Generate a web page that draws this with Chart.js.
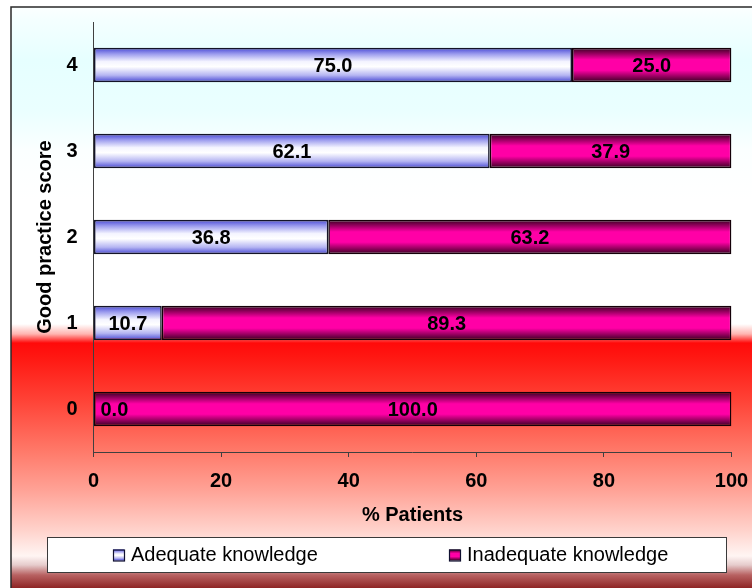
<!DOCTYPE html>
<html>
<head>
<meta charset="utf-8">
<title>Good practice score by knowledge level</title>
<script src="https://cdn.jsdelivr.net/npm/chart.js@4.4.0/dist/chart.umd.min.js"></script>
<style>
  html, body { margin: 0; padding: 0; background: #ffffff; }
  #wrap { width: 752px; height: 588px; position: relative; }
</style>
</head>
<body>
<div id="wrap"><canvas id="chart" width="752" height="588"></canvas></div>
<script>
// Good practice score categories (top to bottom)
const scores = ['4', '3', '2', '1', '0'];
// Percentage of patients per score
const adequateKnowledge = [75.0, 62.1, 36.8, 10.7, 0.0];
const inadequateKnowledge = [25.0, 37.9, 63.2, 89.3, 100.0];
// Percent axis ticks
const percentTicks = [0, 20, 40, 60, 80, 100];
const seriesNames = ['Adequate knowledge', 'Inadequate knowledge'];

const FONT = '"Liberation Sans", Arial, Helvetica, sans-serif';
const BAR_FRACTION = 0.4;

// Cylinder-like shading across the bar thickness
const blueStops = [
  [0.00, '#4646d4'], [0.18, '#9c9cee'], [0.40, '#f4f4ff'],
  [0.55, '#ffffff'], [0.80, '#b4b4f2'], [1.00, '#4444d2']
];
const magentaStops = [
  [0.00, '#33001f'], [0.15, '#8c0058'], [0.35, '#ff00a6'],
  [0.65, '#ff00a6'], [0.85, '#8c0058'], [1.00, '#33001f']
];

function shaded(stops) {
  return (ctx) => {
    const chart = ctx.chart;
    const y = chart.scales && chart.scales.y;
    if (!y || ctx.dataIndex === undefined || !chart.chartArea) {
      return stops[3][1];
    }
    const yc = y.getPixelForValue(ctx.dataIndex);
    const band = Math.abs(y.getPixelForValue(1) - y.getPixelForValue(0));
    const h = band * BAR_FRACTION;
    const g = chart.ctx.createLinearGradient(0, yc - h / 2, 0, yc + h / 2);
    stops.forEach(([o, c]) => g.addColorStop(o, c));
    return g;
  };
}

// Page backdrop: cyan haze at the top, red band low down, dark rim at the bottom
const backdrop = {
  id: 'backdrop',
  beforeDraw(chart) {
    const { ctx, width, height } = chart;
    ctx.save();
    ctx.fillStyle = '#ffffff';
    ctx.fillRect(0, 0, width, height);
    const bg = [
      [0, '#ffffff'], [20, '#f4ffff'], [60, '#e6ffff'], [110, '#eaffff'],
      [150, '#fbffff'], [200, '#ffffff'], [324, '#ffffff'], [334, '#ffb4b0'],
      [343, '#ff0a0a'], [360, '#ff1a14'], [400, '#ff4236'], [450, '#ff7868'],
      [490, '#ffa296'], [530, '#ffd2cb'], [556, '#fff5f3'], [565, '#e6cccc'],
      [575, '#b86262'], [588, '#8e2424']
    ];
    const g = ctx.createLinearGradient(0, 0, 0, height);
    bg.forEach(([y, c]) => g.addColorStop(y / height, c));
    ctx.fillStyle = g;
    ctx.fillRect(11, 7, width - 11, height - 7);
    ctx.strokeStyle = '#2a2a2a';
    ctx.lineWidth = 1.5;
    ctx.beginPath();
    ctx.moveTo(11, height);
    ctx.lineTo(11, 7);
    ctx.lineTo(width, 7);
    ctx.stroke();
    ctx.restore();
  }
};

// Value printed in the middle of every bar segment
const segmentValues = {
  id: 'segmentValues',
  afterDatasetsDraw(chart) {
    const { ctx } = chart;
    ctx.save();
    ctx.font = 'bold 20px ' + FONT;
    ctx.fillStyle = '#000000';
    ctx.textAlign = 'center';
    ctx.textBaseline = 'middle';
    chart.data.datasets.forEach((ds, di) => {
      const meta = chart.getDatasetMeta(di);
      meta.data.forEach((bar, i) => {
        const v = ds.data[i];
        const { x, y, base } = bar.getProps(['x', 'y', 'base'], true);
        const text = v.toFixed(1);
        const w = ctx.measureText(text).width;
        let cx = (x + base) / 2;
        if (Math.abs(x - base) < w + 4) cx = Math.min(x, base) + 7 + w / 2;
        ctx.fillText(text, cx, y + 1);
      });
    });
    ctx.restore();
  }
};

// Boxed legend under the axis title
const legendBox = {
  id: 'legendBox',
  afterDraw(chart) {
    const { ctx } = chart;
    const box = { left: 47, top: 537, width: 679, height: 35 };
    const itemX = [113, 449];
    ctx.save();
    ctx.fillStyle = '#ffffff';
    ctx.fillRect(box.left, box.top, box.width, box.height);
    ctx.strokeStyle = '#3a3a3a';
    ctx.lineWidth = 1;
    ctx.strokeRect(box.left + 0.5, box.top + 0.5, box.width, box.height);
    const midY = box.top + box.height / 2;
    chart.data.datasets.forEach((ds, i) => {
      const mx = itemX[i], my = midY - 5;
      const stops = i === 0 ? blueStops : magentaStops;
      const g = ctx.createLinearGradient(0, my, 0, my + 11);
      stops.forEach(([o, c]) => g.addColorStop(o, c));
      ctx.fillStyle = g;
      ctx.fillRect(mx, my, 11, 11);
      ctx.strokeStyle = '#101030';
      ctx.lineWidth = 1.2;
      ctx.strokeRect(mx + 0.5, my + 0.5, 11, 11);
      ctx.fillStyle = '#000000';
      ctx.font = '20px ' + FONT;
      ctx.textAlign = 'left';
      ctx.textBaseline = 'middle';
      ctx.fillText(ds.label, mx + 18, midY + 1);
    });
    ctx.restore();
  }
};

function fixScale(size, horizontal) {
  return (s) => {
    if (horizontal) s.height = size; else s.width = size;
    s.paddingLeft = s.paddingRight = s.paddingTop = s.paddingBottom = 0;
  };
}

new Chart(document.getElementById('chart'), {
  type: 'bar',
  data: {
    labels: scores,
    datasets: [
      {
        label: seriesNames[0],
        data: adequateKnowledge,
        backgroundColor: shaded(blueStops),
        borderColor: '#141428',
        borderWidth: 1.6,
        borderSkipped: false
      },
      {
        label: seriesNames[1],
        data: inadequateKnowledge,
        backgroundColor: shaded(magentaStops),
        borderColor: '#140008',
        borderWidth: 1.6,
        borderSkipped: false
      }
    ]
  },
  options: {
    indexAxis: 'y',
    responsive: false,
    animation: false,
    events: [],
    layout: { autoPadding: false, padding: { left: 10, right: 20.5, top: 22, bottom: 56 } },
    datasets: { bar: { categoryPercentage: 1.0, barPercentage: BAR_FRACTION } },
    plugins: {
      legend: { display: false },
      tooltip: { enabled: false }
    },
    scales: {
      x: {
        stacked: true,
        min: 0,
        max: 100,
        afterBuildTicks: (s) => { s.ticks = percentTicks.map(v => ({ value: v })); },
        afterFit: fixScale(80, true),
        grid: { drawOnChartArea: false, drawTicks: true, tickLength: 5, color: '#404040' },
        border: { display: true, color: '#404040', width: 1 },
        ticks: { color: '#000', padding: 12, maxRotation: 0, font: { family: FONT, size: 20, weight: 'bold' } },
        title: {
          display: true,
          text: '% Patients',
          color: '#000',
          padding: { top: 0, bottom: 5 },
          font: { family: FONT, size: 20, weight: 'bold' }
        }
      },
      y: {
        stacked: true,
        afterFit: fixScale(83.5, false),
        grid: { display: false, drawTicks: false },
        border: { display: true, color: '#404040', width: 1 },
        ticks: { color: '#000', padding: 16, font: { family: FONT, size: 20, weight: 'bold' } },
        title: {
          display: true,
          text: 'Good practice score',
          color: '#000',
          padding: { top: 23, bottom: 0 },
          font: { family: FONT, size: 20, weight: 'bold' }
        }
      }
    }
  },
  plugins: [backdrop, segmentValues, legendBox]
});
</script>
</body>
</html>
